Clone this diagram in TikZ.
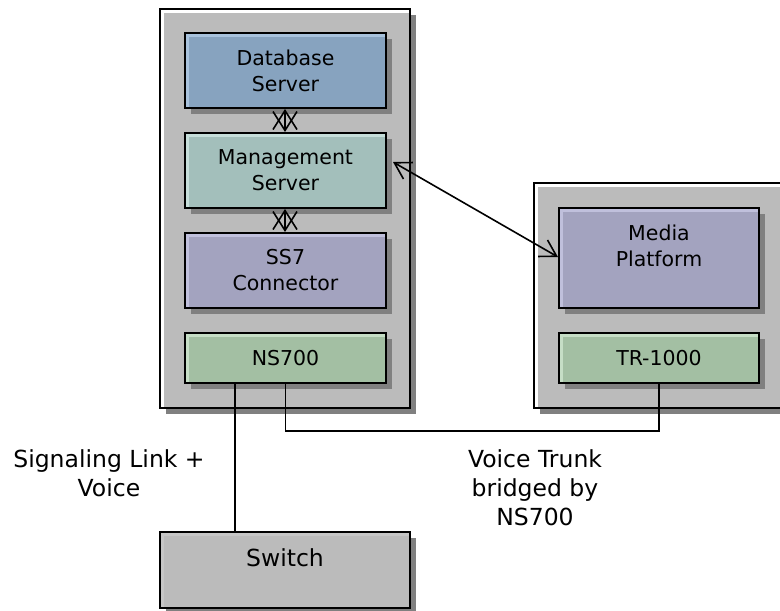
\documentclass[tikz,border=0pt]{standalone}
\usepackage{fontspec}
\setmainfont{DejaVu Sans}
\usetikzlibrary{shadows,calc,arrows.meta}
\definecolor{contgray}{HTML}{BBBBBB}
\definecolor{shadowgray}{HTML}{808080}
\definecolor{dbfill}{HTML}{87A3BF}
\definecolor{dbhl}{HTML}{A8C2DC}
\definecolor{mgfill}{HTML}{A3BFBB}
\definecolor{mghl}{HTML}{C6DEDA}
\definecolor{lvfill}{HTML}{A3A3BF}
\definecolor{lvhl}{HTML}{C0C0DC}
\definecolor{grfill}{HTML}{A3BFA3}
\definecolor{grhl}{HTML}{C6DEC6}
\definecolor{swhl}{HTML}{C6C6C6}
\newcommand{\boxfont}{\fontsize{20.5}{26}\selectfont}
\newcommand{\lblfont}{\fontsize{23.5}{29}\selectfont}
\begin{document}
\begin{tikzpicture}[x=1pt,y=-1pt,
  box/.style={draw=black, line width=2pt, rectangle, inner sep=0pt, align=center,
    drop shadow={shadow xshift=6pt, shadow yshift=-6pt, fill=shadowgray, opacity=1, draw=none},
    path picture={\draw[line width=3pt, draw=#1]
      ($(path picture bounding box.south west)+(2.5pt,0pt)$) |-
      ($(path picture bounding box.north east)+(0pt,-2.5pt)$);}},
  conn/.style={draw=black, line width=1.6pt},
  biarrow/.style={conn, {Straight Barb[length=16pt,width=19pt]}-{Straight Barb[length=16pt,width=19pt]}},
  xarrow/.style={conn, {Straight Barb[length=19pt,width=24pt]}-{Straight Barb[length=19pt,width=24pt]}},
  lbl/.style={font=\lblfont, align=center, inner sep=0pt, anchor=north}
]
\fill[white] (0,0) rectangle (780,611);
\useasboundingbox (0,0) rectangle (780,611);

% containers
\node[box=white, fill=contgray, minimum width=250pt, minimum height=399pt] (cont1) at (285,208.5) {};
\node[box=white, fill=contgray, minimum width=250pt, minimum height=225pt] (cont2) at (659,295.5) {};

% left stack
\node[box=dbhl, fill=dbfill, minimum width=201pt, minimum height=75pt, font=\boxfont] (db) at (285.5,70.5) {Database\\Server};
\node[box=mghl, fill=mgfill, minimum width=201pt, minimum height=75pt, font=\boxfont] (mg) at (285.5,170.5) {Management\\Server};
\node[box=lvhl, fill=lvfill, minimum width=201pt, minimum height=75pt, font=\boxfont] (ss7) at (285.5,270.5) {SS7\\Connector};
\node[box=grhl, fill=grfill, minimum width=201pt, minimum height=50pt, font=\boxfont] (ns) at (285.5,358) {NS700};

% right stack
\node[box=lvhl, fill=lvfill, minimum width=200pt, minimum height=100pt,
  label={[name=medialbl, align=center, font=\boxfont, inner sep=0pt, yshift=12.5pt]center:{Media\\Platform}}] (media) at (659,258) {};
\node[box=grhl, fill=grfill, minimum width=200pt, minimum height=50pt, font=\boxfont] (tr) at (659,358) {TR-1000};

% switch
\node[box=swhl, fill=contgray, minimum width=250pt, minimum height=76pt,
  label={[name=swlbl, font=\lblfont, inner sep=0pt, yshift=12.5pt]center:Switch}] (sw) at (285,570) {};

% connectors
\coordinate (dbbot) at ([xshift=-0.5pt]db.south);
\coordinate (mgtop) at ([xshift=-0.5pt]mg.north);
\coordinate (mgbot) at ([xshift=-0.5pt]mg.south);
\coordinate (sstop) at ([xshift=-0.5pt]ss7.north);
\draw[xarrow] (dbbot) -- (mgtop);
\draw[xarrow] (mgbot) -- (sstop);
\coordinate (mgtip) at ([shift={(6pt,8.5pt)}]mg.east);
\coordinate (mdtip) at ([shift={(0pt,1pt)}]media.west);
\draw[biarrow] (mgtip) -- (mdtip);
\coordinate (sigtop) at ([xshift=51pt]ns.south west);
\draw[conn] (sigtop) -- (sigtop |- sw.north);
\draw[conn] (ns.south) -- ++(0,47) -| (tr.south);

% labels
\node[lbl] (siglbl) at (109,449) {Signaling Link +\\Voice};
\node[lbl] (trunklbl) at (535,449) {Voice Trunk\\bridged by\\NS700};
\end{tikzpicture}
\end{document}
